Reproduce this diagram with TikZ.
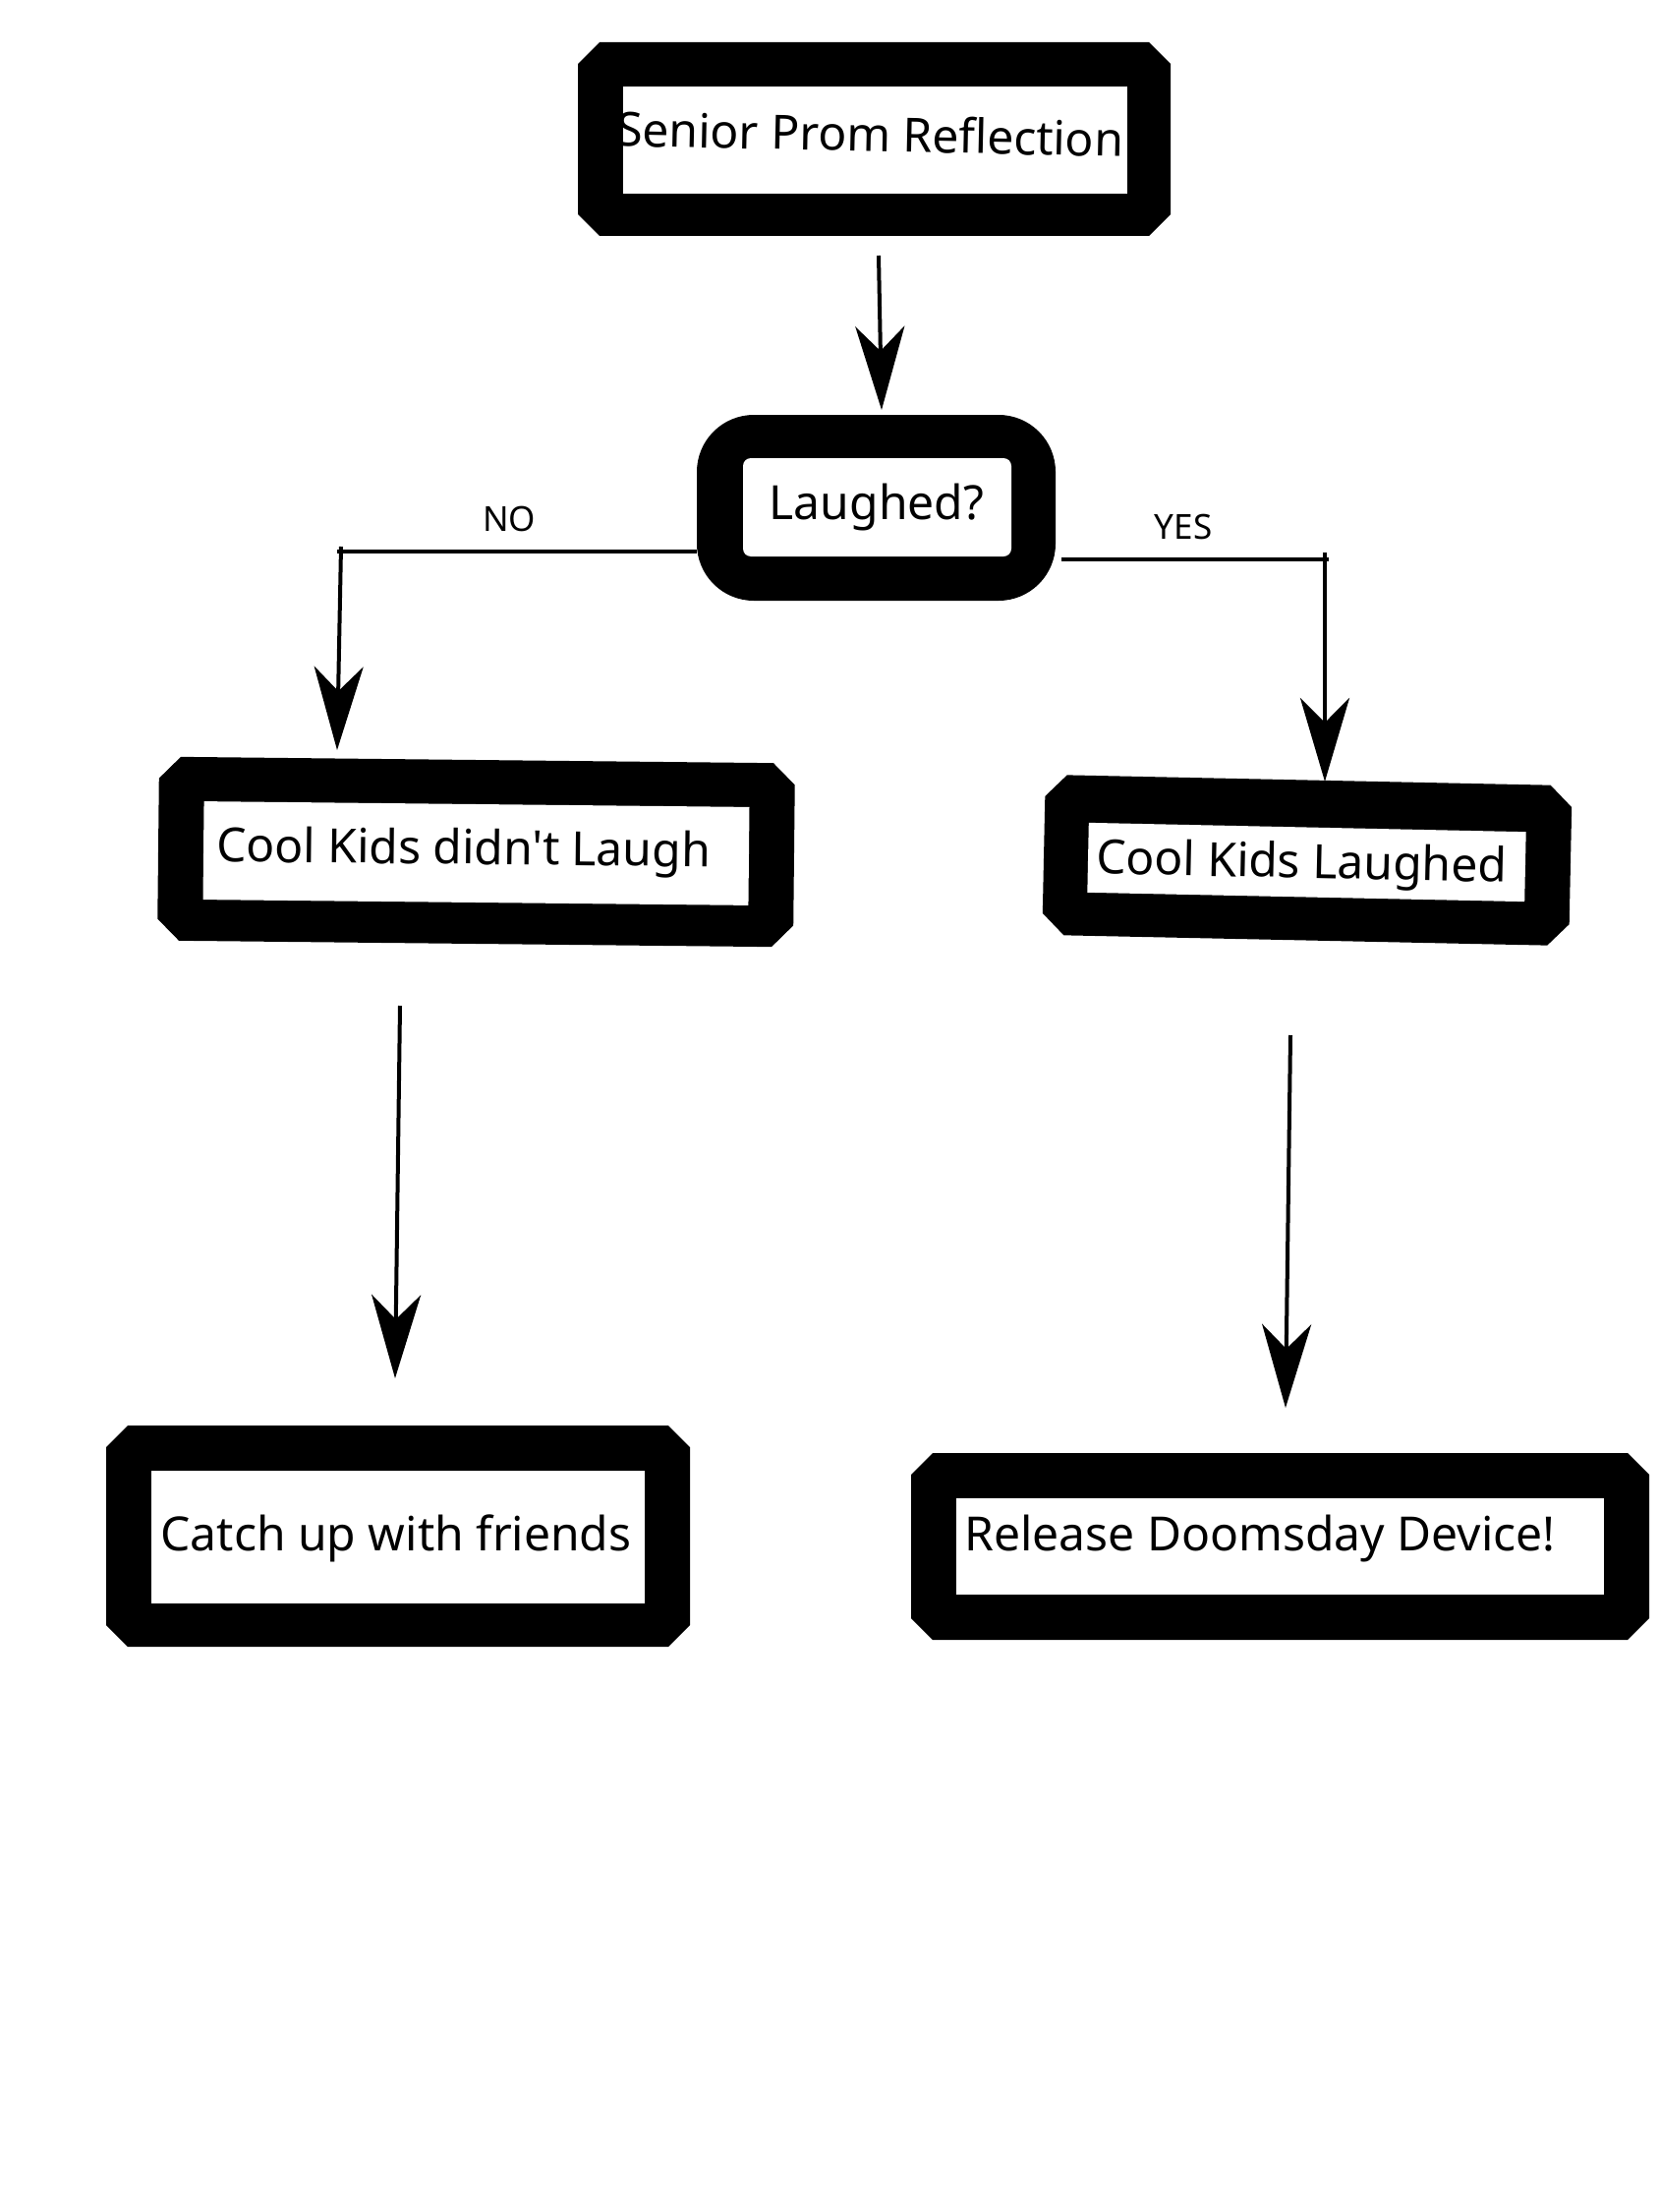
\documentclass[tikz,border=0pt]{standalone}
\usepackage{fontspec}
\setmainfont{Noto Sans}
\newfontfamily\nsf{Noto Sans}
\usetikzlibrary{arrows.meta}
\newcommand\chambox[6]{%
  \begin{scope}[shift={(#2,#3)}, rotate=#6]
    \fill[black] ({-#4/2+22},{-#5/2}) -- ({#4/2-22},{-#5/2}) -- ({#4/2},{-#5/2+22}) -- ({#4/2},{#5/2-22})
      -- ({#4/2-22},{#5/2}) -- ({-#4/2+22},{#5/2}) -- ({-#4/2},{#5/2-22}) -- ({-#4/2},{-#5/2+22}) -- cycle;
  \end{scope}
  \node[minimum width=#4pt, minimum height=#5pt, inner sep=0pt, rotate=#6] (#1) at (#2,#3) {};
}
\begin{document}
\begin{tikzpicture}[x=1pt,y=-1pt,
  innerbox/.style={rectangle, fill=white, draw=none, inner sep=0pt},
  txt/.style={font=\nsf\fontsize{48}{58}\selectfont, inner sep=0pt, anchor=base},
  lbl/.style={font=\nsf\fontsize{35}{42}\selectfont, inner sep=0pt, anchor=base},
  conn/.style={line width=4.5pt},
  arr/.style={line width=4pt, -{Stealth[length=85pt,width=50pt,inset=25pt]}}]
\useasboundingbox[fill=white] (0,0) rectangle (1688,2250);

% Box 1
\chambox{prom}{889.5}{141.5}{603}{197}{0}
\node[innerbox, minimum width=513pt, minimum height=109pt] (promin) at (890.5,142.5) {};
\node[txt, rotate=-1.2] (promtxt) at (885,154) {Senior Prom Reflection};

% Box 2
\node[rectangle, rounded corners=58pt, fill=black, minimum width=365pt, minimum height=189pt, inner sep=0pt] (laughed) at (891.5,516.5) {};
\node[rectangle, rounded corners=8pt, fill=white, minimum width=273pt, minimum height=100pt, inner sep=0pt] (laughedin) at (892.5,516) {};
\node[txt] (laughedtxt) at (892,528) {Laughed?};

% Box 3
\chambox{nolaugh}{484.5}{866.5}{647}{187}{-0.6}
\node[innerbox, minimum width=555pt, minimum height=100pt, rotate=-0.6] (nolaughin) at (484.5,868) {};
\node[txt, rotate=-0.6] (nolaughtxt) at (471.5,879) {Cool Kids didn't Laugh};

% Box 4
\chambox{laugh}{1330}{875}{536}{163}{-1.2}
\node[innerbox, minimum width=445pt, minimum height=71pt, rotate=-1.2] (laughin) at (1329.5,877) {};
\node[txt, rotate=-1.2] (laughtxt) at (1324,893) {Cool Kids Laughed};

% Box 5
\chambox{friends}{405}{1562.5}{594}{225}{0}
\node[innerbox, minimum width=502pt, minimum height=135pt] (friendsin) at (405,1563.5) {};
\node[txt] (friendstxt) at (403,1577) {Catch up with friends};

% Box 6
\chambox{doom}{1302.5}{1573}{751}{190}{0}
\node[innerbox, minimum width=659pt, minimum height=98pt] (doomin) at (1302.5,1573) {};
\node[txt, anchor=base west] (doomtxt) at (981,1577) {Release Doomsday Device!};

% Labels
\node[lbl] (nolbl) at (518,540) {NO};
\node[lbl] (yeslbl) at (1204,548) {YES};

% Connectors
\coordinate (a1s) at (894,260);
\coordinate (a1e) at (897,417);
\draw[arr] (a1s) -- (a1e);

\coordinate (nocorner) at (343,561);
\draw[conn] (nocorner) -- (nocorner -| laughed.west);
\coordinate (notop) at (347,556);
\coordinate (notip) at (343,763);
\draw[arr] (notop) -- (notip);

\coordinate (yescorner) at (1352,569);
\draw[conn] (laughed.east |- yescorner) ++(6,0) -- (yescorner);
\coordinate (yestop) at (1348,562);
\coordinate (yestip) at (1348,795);
\draw[arr] (yestop) -- (yestip);

\coordinate (a4s) at (407,1023);
\coordinate (a4e) at (402,1402);
\draw[arr] (a4s) -- (a4e);

\coordinate (a5s) at (1313,1053);
\coordinate (a5e) at (1308,1432);
\draw[arr] (a5s) -- (a5e);
\end{tikzpicture}
\end{document}
